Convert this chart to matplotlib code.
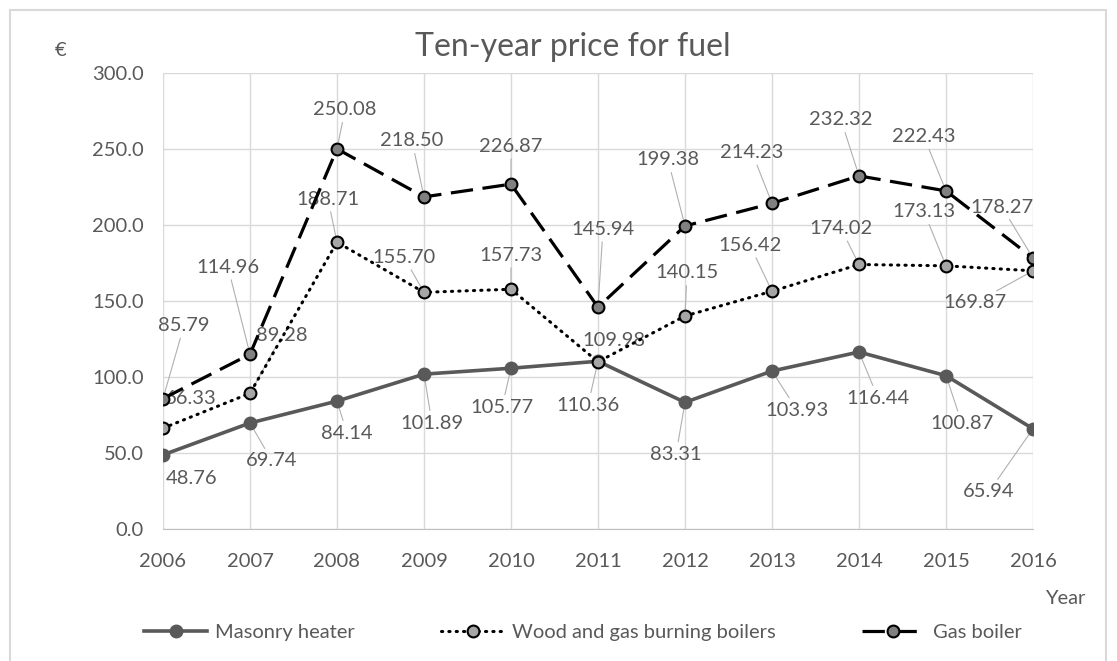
import matplotlib.pyplot as plt
from matplotlib.patches import Rectangle

plt.rcParams['font.family'] = ['Lato', 'DejaVu Sans']

years = [2006, 2007, 2008, 2009, 2010, 2011, 2012, 2013, 2014, 2015, 2016]
masonry = [48.76, 69.74, 84.14, 101.89, 105.77, 110.36, 83.31, 103.93, 116.44, 100.87, 65.94]
wood_gas = [66.33, 89.28, 188.71, 155.70, 157.73, 109.98, 140.15, 156.42, 174.02, 173.13, 169.87]
gas_boiler = [85.79, 114.96, 250.08, 218.50, 226.87, 145.94, 199.38, 214.23, 232.32, 222.43, 178.27]

# label offsets in pixels (dx, dy with dy pointing down like the picture)
masonry_off = [(29, 24), (22, 38), (10, 32), (8, 49), (-9, 39), (-10, 44),
               (-9, 52), (25, 39), (19, 46), (16, 48), (-44, 63)]
wood_off = [(28, -30), (32, -58), (-9, -43), (-20, -35), (0, -34), (16, -21),
            (2, -43), (-22, -46), (-18, -36), (-22, -54), (-58, 32)]
gas_off = [(21, -73), (-22, -87), (8, -39), (-12, -56), (0, -38), (5, -78),
           (-17, -66), (-20, -51), (-18, -56), (-22, -54), (-31, -51)]

txt = '#595959'
fs = 14.5
W, H = 1117, 661
fig = plt.figure(figsize=(W / 100, H / 100), dpi=100)
ax = fig.add_axes([163 / W, 1 - 529 / H, 870 / W, 456 / H])

l1, = ax.plot(years, masonry, color='#595959', lw=2.6, marker='o', ms=9,
              mfc='#595959', mec='#595959', zorder=3, label='Masonry heater')
l2, = ax.plot(years, wood_gas, color='black', lw=2.2, linestyle=(0, (0.4, 2.0)),
              dash_capstyle='round', marker='o', ms=8.5, mfc='#a6a6a6', mec='black',
              mew=1.5, zorder=3, label='Wood and gas burning boilers')
l3, = ax.plot(years, gas_boiler, color='black', lw=2.3, linestyle=(0, (7, 3)),
              marker='o', ms=8.5, mfc='#808080', mec='black', mew=1.5, zorder=3,
              label='Gas boiler')

def add_labels(vals, offs):
    for x, v, (dx, dy) in zip(years, vals, offs):
        arrow = None
        if abs(dy) > 31:
            arrow = dict(arrowstyle='-', color='#b0b0b0', lw=0.8, shrinkA=1, shrinkB=5)
        ax.annotate(f'{v:.2f}', (x, v), xytext=(dx, -dy), textcoords='offset pixels',
                    ha='center', va='center', fontsize=fs, color=txt,
                    arrowprops=arrow, zorder=2)

add_labels(masonry, masonry_off)
add_labels(wood_gas, wood_off)
add_labels(gas_boiler, gas_off)

ax.set_xlim(2006, 2016)
ax.set_ylim(0, 300)
ax.set_xticks(years)
ax.set_yticks([0, 50, 100, 150, 200, 250, 300])
ax.set_yticklabels([f'{t:.1f}' for t in ax.get_yticks()])
ax.tick_params(length=0, labelsize=fs, labelcolor=txt)
ax.tick_params(axis='y', pad=14)
ax.tick_params(axis='x', pad=17)
ax.grid(True, color='#d9d9d9', lw=1)
ax.set_axisbelow(True)
for s in ['top', 'right', 'left']:
    ax.spines[s].set_visible(False)
ax.spines['bottom'].set_color('#bfbfbf')

fig.text(573 / W, 1 - 47 / H, 'Ten-year price for fuel', ha='center', va='center',
         fontsize=23, color=txt)
fig.text(61 / W, 1 - 50 / H, '€', ha='center', va='center', fontsize=fs, color=txt)
fig.text(1065 / W, 1 - 598 / H, 'Year', ha='center', va='center', fontsize=fs, color=txt)

fig.legend(handles=[l1, l2, l3], loc='center', bbox_to_anchor=(583 / W, 1 - 632 / H),
           ncol=3, frameon=False, fontsize=fs, labelcolor=txt, handlelength=3.1,
           handletextpad=0.4, columnspacing=4.3)

fig.add_artist(Rectangle((10 / W, -0.05), 1096 / W, 1.05 - 10 / H, transform=fig.transFigure,
                         fill=False, edgecolor='#d9d9d9', lw=1.5))

fig.savefig('out.png', dpi=100)
